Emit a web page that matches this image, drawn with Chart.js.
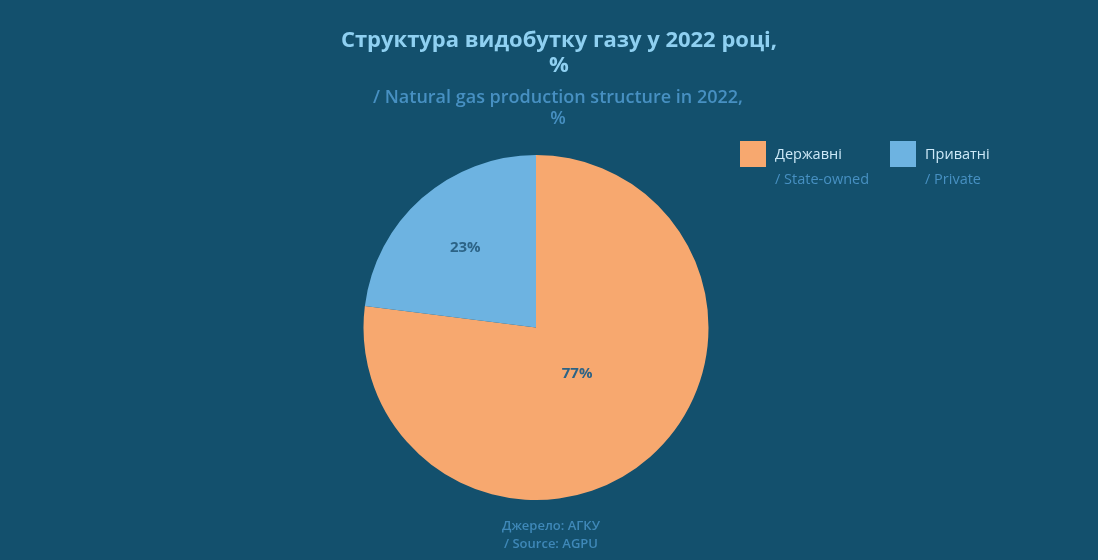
<!DOCTYPE html>
<html>
<head>
<meta charset="utf-8">
<script src="https://cdn.jsdelivr.net/npm/chart.js@4"></script>
<style>
	html, body { margin: 0; padding: 0; background: #13506d; }
	#wrap { width: 1098px; height: 560px; }
</style>
</head>
<body>
<div id="wrap"><canvas id="gasPie" width="1098" height="560"></canvas></div>
<script>
var categories = ["Державні", "Приватні"];
var categoriesEn = ["/ State-owned", "/ Private"];
var shares = [77, 23];
var sliceColors = ["#f7a86f", "#6db3e1"];
var titleLines = ["Структура видобутку газу у 2022 році,", "%"];
var subtitleLines = ["/ Natural gas production structure in 2022,", "%"];
var sourceLines = ["Джерело: АГКУ", "/ Source: AGPU"];
var labelRadius = [0.36, 0.62];

var fontFamily = "'Open Sans', 'Noto Sans', sans-serif";

var textPlugin = {
	id: "textPlugin",
	afterDraw: function (chart) {
		var ctx = chart.ctx;
		ctx.save();
		ctx.textAlign = "center";
		ctx.textBaseline = "middle";

		// title
		ctx.fillStyle = "#8fd0f1";
		ctx.font = "700 22px " + fontFamily;
		titleLines.forEach(function (line, i) {
			ctx.fillText(line, 559, 41 + i * 25);
		});

		// subtitle
		ctx.fillStyle = "#4790c2";
		ctx.font = "600 18px " + fontFamily;
		subtitleLines.forEach(function (line, i) {
			ctx.fillText(line, 558, 98 + i * 21);
		});

		// value labels
		var meta = chart.getDatasetMeta(0);
		ctx.fillStyle = "#2c6386";
		ctx.font = "700 15px " + fontFamily;
		meta.data.forEach(function (arc, i) {
			var mid = (arc.startAngle + arc.endAngle) / 2;
			var r = arc.outerRadius * labelRadius[i];
			ctx.fillText(shares[i] + "%", arc.x + Math.cos(mid) * r, arc.y + Math.sin(mid) * r);
		});

		// legend
		ctx.textAlign = "left";
		categories.forEach(function (name, i) {
			var x = 740 + i * 150;
			ctx.fillStyle = sliceColors[i];
			ctx.fillRect(x, 141, 26, 26);
			ctx.fillStyle = "#cde9f8";
			ctx.font = "400 14.5px " + fontFamily;
			ctx.fillText(name, x + 35, 155);
			ctx.fillStyle = "#4790c2";
			ctx.font = "400 14.5px " + fontFamily;
			ctx.fillText(categoriesEn[i], x + 35, 180);
		});

		// source
		ctx.textAlign = "center";
		ctx.fillStyle = "#3f88b8";
		ctx.font = "600 13px " + fontFamily;
		sourceLines.forEach(function (line, i) {
			ctx.fillText(line, 551, 526 + i * 18);
		});
		ctx.restore();
	}
};

var gasChart = new Chart(document.getElementById("gasPie").getContext("2d"), {
	type: "pie",
	data: {
		labels: categories,
		datasets: [
			{
				data: shares,
				backgroundColor: sliceColors,
				borderWidth: 0,
			},
		],
	},
	options: {
		responsive: false,
		animation: false,
		layout: {
			padding: { top: 155, bottom: 60, left: 0, right: 26 },
		},
		plugins: {
			legend: { display: false },
			title: { display: false },
			tooltip: { enabled: false },
		},
	},
	plugins: [textPlugin],
});
</script>
</body>
</html>
